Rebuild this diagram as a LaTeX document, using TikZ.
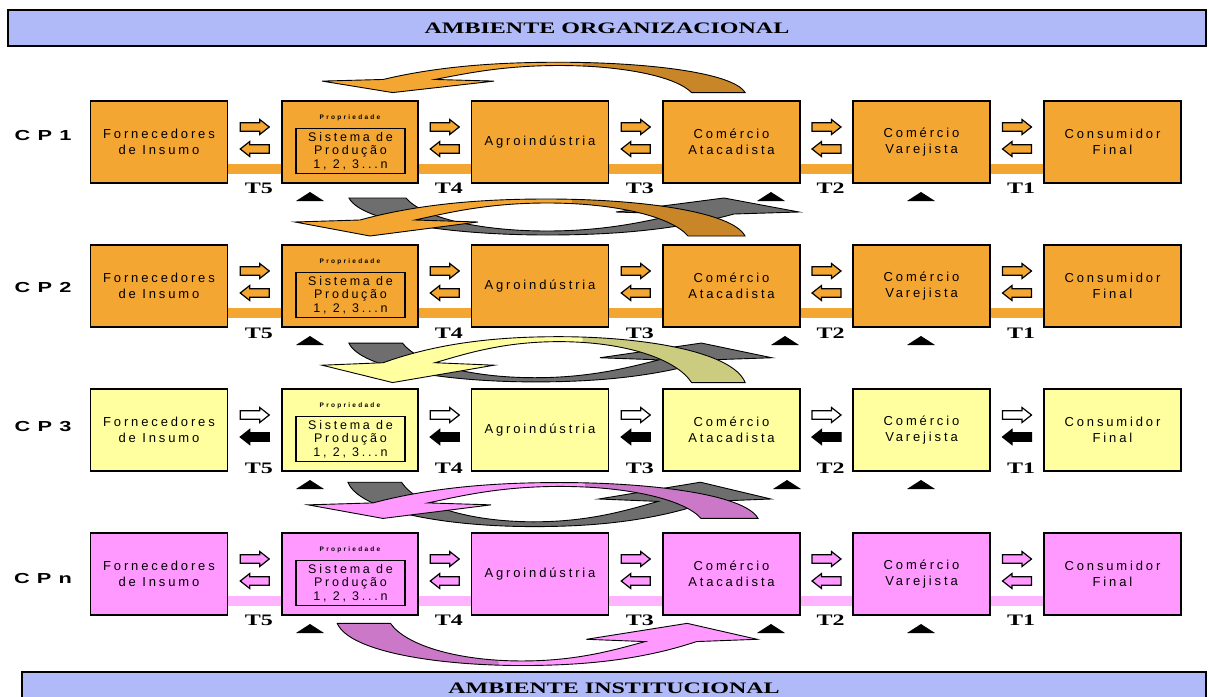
\documentclass[tikz,border=0pt]{standalone}
\usepackage{fontspec}
\setmainfont{Liberation Serif}
\setsansfont{Liberation Sans}
\newfontfamily\bannerfont[FakeStretch=1.5]{Liberation Serif}
\newfontfamily\boxfont[LetterSpace=22]{Liberation Sans}
\newfontfamily\tinyfont[LetterSpace=35]{Liberation Sans}
\newfontfamily\cpfont[FakeStretch=1.5,LetterSpace=8]{Liberation Sans}
\usetikzlibrary{calc,backgrounds}

\definecolor{cpOrange}{RGB}{244,166,50}
\definecolor{cpOrangeDark}{RGB}{200,134,40}
\definecolor{cpYellow}{RGB}{255,255,160}
\definecolor{cpOlive}{RGB}{204,204,128}
\definecolor{cpPink}{RGB}{255,153,255}
\definecolor{cpPinkDark}{RGB}{204,120,200}
\definecolor{cpPinkLight}{RGB}{255,180,255}
\definecolor{cpGray}{RGB}{110,110,110}
\definecolor{cpBanner}{RGB}{176,186,248}

% flat curved arrow of the feedback loops, head at lower left
\newcommand{\loopshape}{(-252,5) -- (-187,3) .. controls (-125,-14) and (-60,-18) .. (0,-18)
  .. controls (90,-18) and (185,-6) .. (198,19) -- (141,19)
  .. controls (125,0) and (70,-14) .. (0,-14) .. controls (-60,-14) and (-100,-4) .. (-132,3)
  -- (-69,5) -- (-177,19) -- cycle}
\newcommand{\loopbody}[3]{%
  \begin{scope}[#1]
    \fill[#2] \loopshape;
    \begin{scope}
      \clip (25,-40) rectangle (260,40);
      \fill[#3] \loopshape;
    \end{scope}
    \draw[loopline] \loopshape;
  \end{scope}}

\tikzset{
  banner/.style={draw, line width=1.5pt, fill=cpBanner, minimum width=1198pt,
    minimum height=36pt, inner sep=0pt, font=\bannerfont\bfseries\fontsize{16}{16}\selectfont},
  cpbox/.style={draw, line width=1.4pt, minimum width=137pt, minimum height=82pt,
    inner sep=0pt, align=center, font=\boxfont\fontsize{13}{16}\selectfont},
  innerbox/.style={draw, line width=1.2pt, minimum width=109pt, minimum height=45pt,
    inner sep=0pt, align=center, font=\boxfont\fontsize{12.5}{13.5}\selectfont},
  proplabel/.style={inner sep=0pt, font=\tinyfont\bfseries\fontsize{6.5}{7}\selectfont},
  cplabel/.style={inner sep=0pt, font=\cpfont\bfseries\fontsize{14.5}{15}\selectfont},
  tlabel/.style={inner sep=0pt, font=\bannerfont\bfseries\fontsize{16}{16}\selectfont},
  strip/.style={line width=10pt},
  loopline/.style={draw=black, line width=0.9pt},
  pics/flowarrow/.style={code={
    \draw[line width=1.2pt, fill=#1] (-14.5,-4.3) -- (5,-4.3) -- (5,-7.5) -- (14.5,0)
      -- (5,7.5) -- (5,4.3) -- (-14.5,4.3) -- cycle;}}
}

\begin{document}
\begin{tikzpicture}[x=1pt,y=-1pt]
  \useasboundingbox (0,0) rectangle (1209,696);

  \node[banner] (org) at (607,28) {AMBIENTE ORGANIZACIONAL};
  \node[banner, minimum width=1184pt, minimum height=32pt] (inst) at (614,688) {AMBIENTE INSTITUCIONAL};

  % the four chains
  \foreach \rw/\ry/\cy/\bx/\st/\fa/\ba/\tx/\ty in {
      1/101/136/cpOrange/cpOrange/cpOrange/cpOrange/771/87,
      2/245/288/cpOrange/cpOrange/cpOrange/cpOrange/785/88,
      3/389/427/cpYellow/none/white/black/787/79,
      n/533/578/cpPink/cpPinkLight/cpPink/cpPink/771/87}{
    \node[cplabel] (cp\rw) at (43,\cy) {C P \rw};
    \node[cpbox, fill=\bx] (f\rw) at (159,\ry+41) {Fornecedores\\de Insumo};
    \node[cpbox, fill=\bx, minimum width=136pt] (s\rw) at (350,\ry+41) {};
    \node[cpbox, fill=\bx] (a\rw) at (540,\ry+41) {Agroindústria};
    \node[cpbox, fill=\bx] (ca\rw) at (731.5,\ry+41) {Comércio\\Atacadista};
    \node[cpbox, fill=\bx] (cv\rw) at (921.5,\ry+41) {Comércio\\Varejista};
    \node[cpbox, fill=\bx] (cf\rw) at (1112.5,\ry+41) {Consumidor\\Final};
    \node[proplabel] (pr\rw) at (350,\ry+17) {Propriedade};
    \node[innerbox] (ps\rw) at (350.5,\ry+50) {Sistema de\\Produção\\1, 2, 3...n};

    \foreach \p/\q/\tn in {f/s/5, s/a/4, a/ca/3, ca/cv/2, cv/cf/1}{
      \begin{scope}[on background layer]
        \draw[strip, draw=\st] ($(\p\rw.east)+(0,27)$) -- ($(\q\rw.west)+(0,27)$);
      \end{scope}
      \pic at ($(\p\rw.east)!.5!(\q\rw.west)+(0,-15)$) {flowarrow=\fa};
      \pic[rotate=180] at ($(\p\rw.east)!.5!(\q\rw.west)+(0,7)$) {flowarrow=\ba};
      \node[tlabel] (t\rw\tn) at ($(\p\rw.east)!.5!(\q\rw.west)+(4,\ty-41)$) {T\tn};
    }
    \foreach \m in {310,\tx,921}
      \fill (\m-14,\ry+100) -- (\m,\ry+91) -- (\m+14,\ry+100) -- cycle;
  }

  % feedback loops
  \loopbody{shift={(559,77)}, xscale=.94, yscale=.82}{cpOrange}{cpOrangeDark}

  \loopbody{shift={(547,217)}, rotate=180}{cpGray}{cpGray}
  \loopbody{shift={(547,217)}}{cpOrange}{cpOrangeDark}

  \loopbody{shift={(535,363)}, xscale=.94, yscale=1.05, rotate=180}{cpGray}{cpGray}
  \loopbody{shift={(559,359)}, xscale=.94, yscale=1.24}{cpYellow}{cpOlive}

  \loopbody{shift={(534,505)}, xscale=.94, yscale=1.2, rotate=180}{cpGray}{cpGray}
  \loopbody{shift={(560,500)}, yscale=.97}{cpPink}{cpPinkDark}

  \loopbody{shift={(522,645)}, xscale=.933, yscale=1.14, rotate=180}{cpPink}{cpPinkDark}
\end{tikzpicture}
\end{document}
